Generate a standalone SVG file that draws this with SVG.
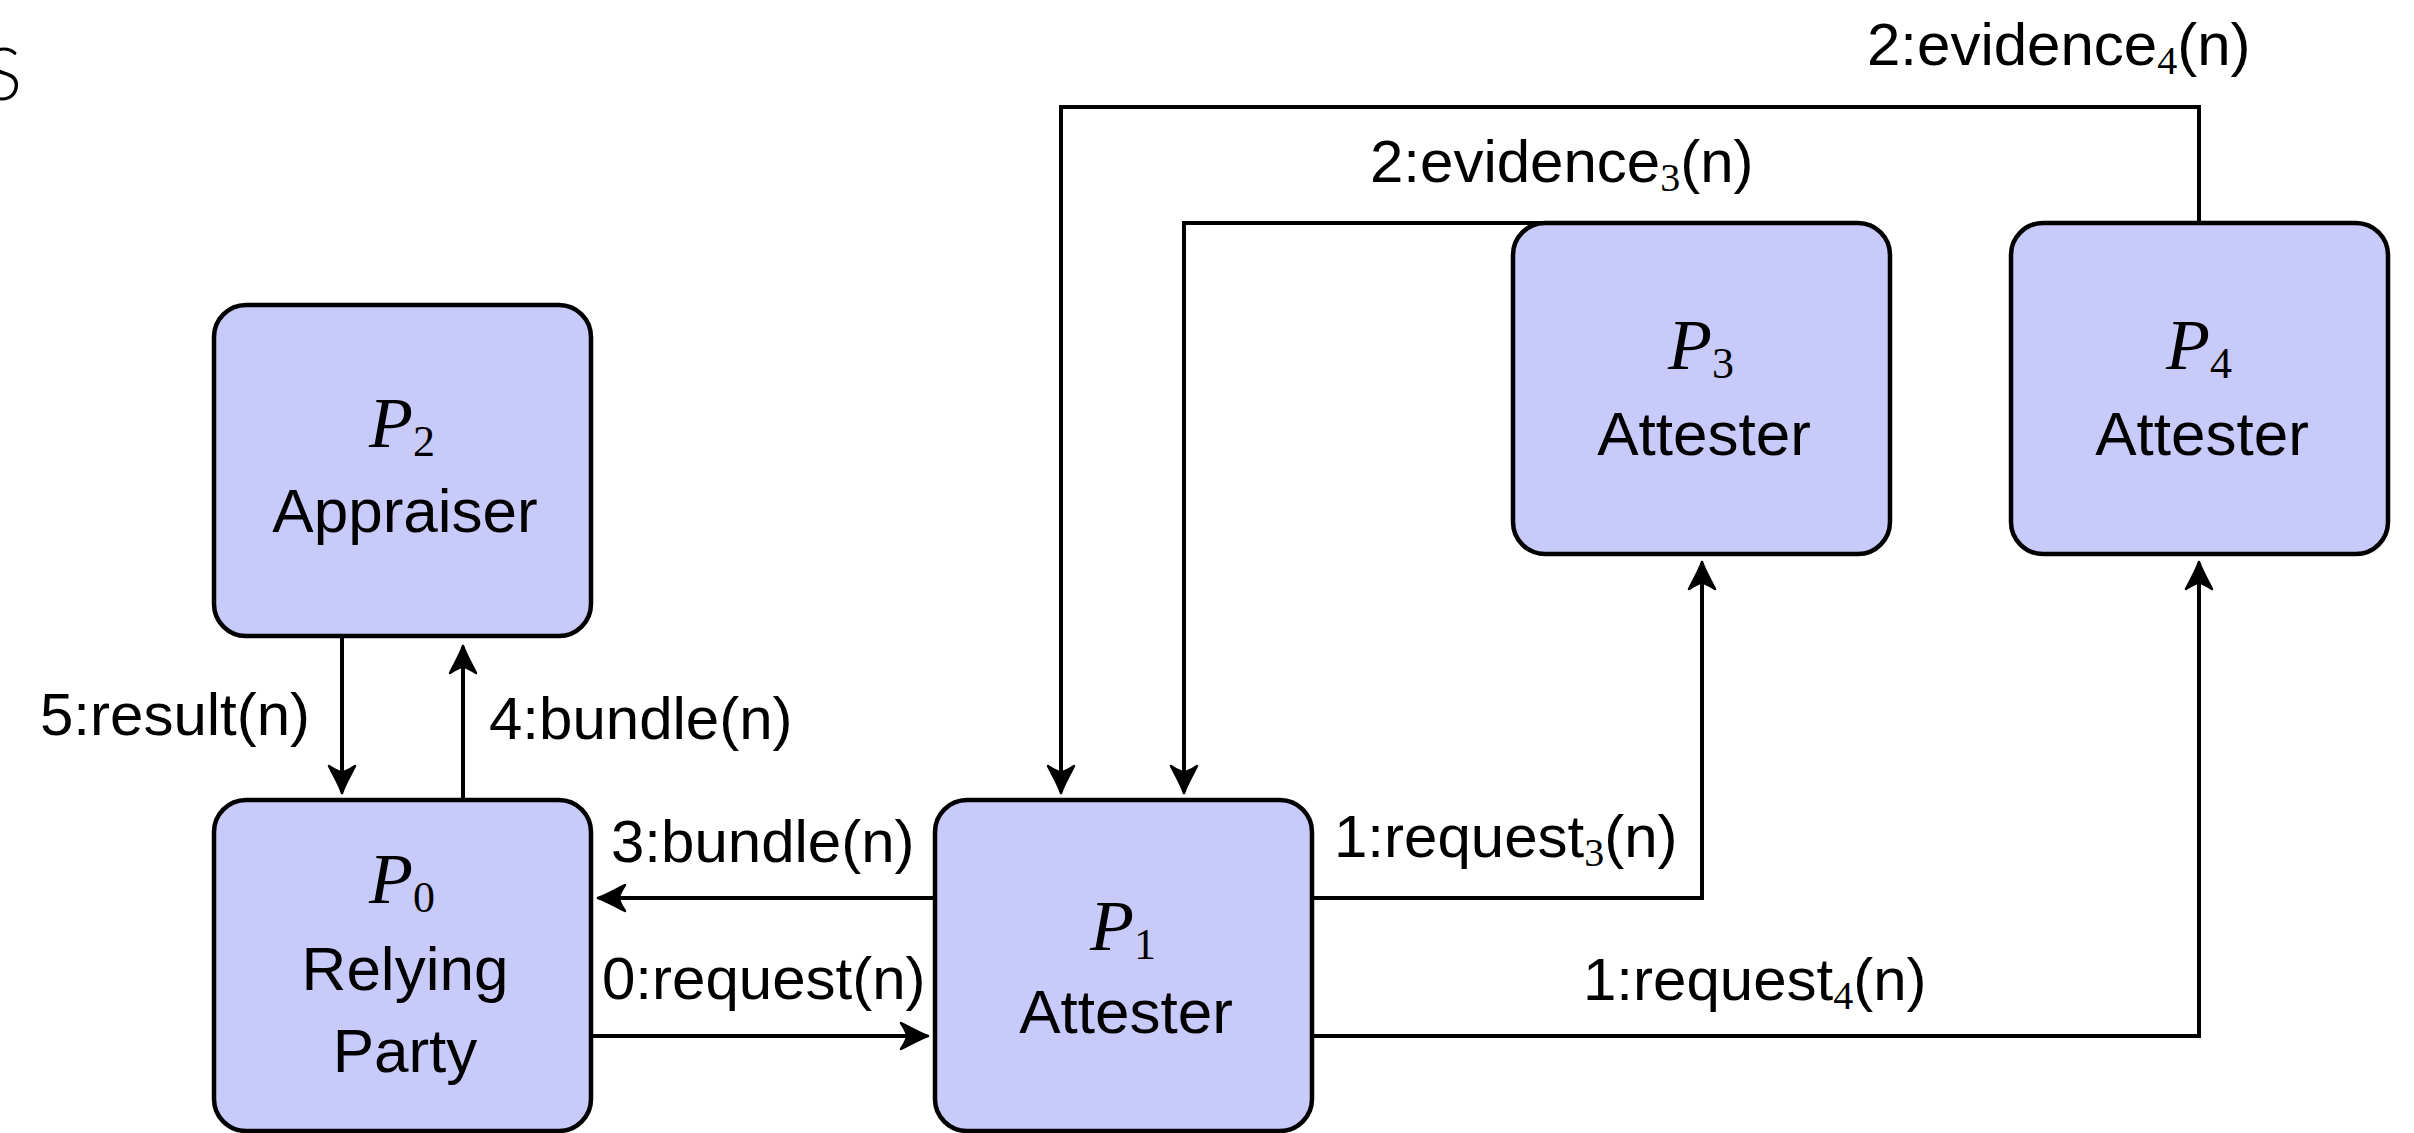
<svg xmlns="http://www.w3.org/2000/svg" width="2414" height="1133" viewBox="0 0 2414 1133">
<style>
.box{fill:#c8cafa;stroke:#000;stroke-width:4.5}
.lbl{font-family:"Liberation Sans",Arial,sans-serif;font-size:62px;fill:#000}
.el{font-size:60px}
.mi{font-family:"Liberation Serif","Times New Roman",serif;font-style:italic;font-size:72px}
.psub{font-family:"Liberation Serif","Times New Roman",serif;font-size:44px}
.sub{font-family:"Liberation Serif","Times New Roman",serif;font-size:40px}
.edge{fill:none;stroke:#000;stroke-width:4;marker-end:url(#arr)}
.nl{text-anchor:middle}
</style>
<defs>
<marker id="arr" markerUnits="userSpaceOnUse" viewBox="-30 -16 34 32" refX="0" refY="0" markerWidth="34" markerHeight="32" orient="auto">
<path d="M1,0 C-8,-3 -16,-8 -26,-13 C-22,-7 -20,-3 -20,0 C-20,3 -22,7 -26,13 C-16,8 -8,3 1,0 Z" fill="#000" stroke="#000" stroke-width="2.5" stroke-linejoin="round"/>
</marker>
</defs>
<rect width="2414" height="1133" fill="#fff"/>
<text x="22" y="100" text-anchor="end" style="font-family:Lato,'DejaVu Sans',sans-serif;font-weight:300;font-size:72px;fill:#000">S</text>
<g id="connectors">
<path id="e-result" class="edge" d="M342,636 V792"/>
<path id="e-bundle4" class="edge" d="M463,800 V647"/>
<path id="e-bundle3" class="edge" d="M934,898 H599"/>
<path id="e-request0" class="edge" d="M591,1036 H927"/>
<path id="e-request3" class="edge" d="M1312,898 H1702 V563"/>
<path id="e-request4" class="edge" d="M1312,1036 H2199 V563"/>
<path id="e-evidence3" class="edge" d="M1702,223 H1184 V792"/>
<path id="e-evidence4" class="edge" d="M2199,223 V107 H1061 V792"/>
<g class="lbl el">
<text x="40" y="735">5:result(n)</text>
<text x="489" y="739">4:bundle(n)</text>
<text x="611" y="862">3:bundle(n)</text>
<text x="602" y="999">0:request(n)</text>
<text x="1334" y="857">1:request<tspan class="sub" dy="9">3</tspan><tspan dy="-9">(n)</tspan></text>
<text x="1583" y="1000">1:request<tspan class="sub" dy="9">4</tspan><tspan dy="-9">(n)</tspan></text>
<text x="1370" y="182">2:evidence<tspan class="sub" dy="9">3</tspan><tspan dy="-9">(n)</tspan></text>
<text x="1867" y="65">2:evidence<tspan class="sub" dy="9">4</tspan><tspan dy="-9">(n)</tspan></text>
</g>
</g>
<g id="P2" class="lbl">
<rect class="box" x="214" y="305" width="377" height="331" rx="32"/>
<text class="nl" x="402" y="447"><tspan class="mi">P</tspan><tspan class="psub" dy="9">2</tspan></text>
<text class="nl" x="405" y="532">Appraiser</text>
</g>
<g id="P0" class="lbl">
<rect class="box" x="214" y="800" width="377" height="331" rx="32"/>
<text class="nl" x="402" y="903"><tspan class="mi">P</tspan><tspan class="psub" dy="9">0</tspan></text>
<text class="nl" x="405" y="990">Relying</text>
<text class="nl" x="405" y="1072">Party</text>
</g>
<g id="P1" class="lbl">
<rect class="box" x="935" y="800" width="377" height="331" rx="32"/>
<text class="nl" x="1123" y="950"><tspan class="mi">P</tspan><tspan class="psub" dy="9">1</tspan></text>
<text class="nl" x="1126" y="1033">Attester</text>
</g>
<g id="P3" class="lbl">
<rect class="box" x="1513" y="223" width="377" height="331" rx="32"/>
<text class="nl" x="1701" y="369"><tspan class="mi">P</tspan><tspan class="psub" dy="9">3</tspan></text>
<text class="nl" x="1704" y="455">Attester</text>
</g>
<g id="P4" class="lbl">
<rect class="box" x="2011" y="223" width="377" height="331" rx="32"/>
<text class="nl" x="2199" y="369"><tspan class="mi">P</tspan><tspan class="psub" dy="9">4</tspan></text>
<text class="nl" x="2202" y="455">Attester</text>
</g>
</svg>
